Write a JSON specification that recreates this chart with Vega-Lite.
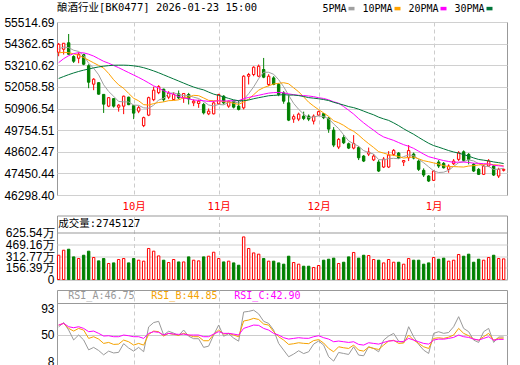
{
"$schema": "https://vega.github.io/schema/vega-lite/v6.json",
"background": "white",
"padding": {"left": 3, "top": 2, "right": 0, "bottom": 0},
"spacing": 2.5,
"resolve": {"scale": {"x": "independent", "y": "independent", "color": "independent"}, "legend": {"color": "independent"}},
"config": {"view": {"stroke": "#999999", "strokeWidth": 1}, "axis": {"labelOverlap": false}},
"datasets": {"k": [
{"d":"2025-09-10","o":53903,"h":54398,"l":53691,"c":54329,"vol":323,"m5":54080,"m10":53870,"m20":53350,"m30":52505,"ra":63,"rb":66,"rc":66},
{"d":"2025-09-11","o":54063,"h":54398,"l":53781,"c":54382,"vol":390,"m5":54180,"m10":53900,"m20":53560,"m30":52610,"ra":70,"rb":68.7,"rc":68.7},
{"d":"2025-09-12","o":54408,"h":54876,"l":53770,"c":53797,"vol":403,"m5":54150,"m10":53880,"m20":53720,"m30":52710,"ra":58,"rb":60.6,"rc":63.3},
{"d":"2025-09-15","o":53675,"h":53744,"l":53334,"c":53425,"vol":301,"m5":54010,"m10":53820,"m20":53830,"m30":52800,"ra":42,"rb":56.3,"rc":61.7},
{"d":"2025-09-16","o":53584,"h":53903,"l":53318,"c":53797,"vol":279,"m5":53946,"m10":53740,"m20":53880,"m30":52880,"ra":50,"rb":60.6,"rc":63.3},
{"d":"2025-09-17","o":53781,"h":53823,"l":53212,"c":53265,"vol":323,"m5":53733,"m10":53620,"m20":53870,"m30":52950,"ra":42,"rb":57.9,"rc":60.6},
{"d":"2025-09-18","o":53185,"h":53265,"l":51989,"c":52308,"vol":377,"m5":53318,"m10":53480,"m20":53800,"m30":53010,"ra":26,"rb":44.5,"rc":55.3},
{"d":"2025-09-19","o":52202,"h":52521,"l":51882,"c":52467,"vol":293,"m5":53052,"m10":53340,"m20":53700,"m30":53070,"ra":30,"rb":47.2,"rc":56.3},
{"d":"2025-09-22","o":52281,"h":52308,"l":51643,"c":51670,"vol":248,"m5":52701,"m10":53200,"m20":53560,"m30":53120,"ra":25,"rb":43.4,"rc":52.6},
{"d":"2025-09-23","o":51659,"h":51670,"l":50670,"c":51138,"vol":279,"m5":52170,"m10":53058,"m20":53420,"m30":53160,"ra":18,"rb":36.4,"rc":48.3},
{"d":"2025-09-24","o":51032,"h":51510,"l":50978,"c":51484,"vol":213,"m5":51813,"m10":52773,"m20":53320,"m30":53190,"ra":24,"rb":38,"rc":48.8},
{"d":"2025-09-25","o":51430,"h":51457,"l":50952,"c":51032,"vol":221,"m5":51558,"m10":52438,"m20":53200,"m30":53210,"ra":21,"rb":34.8,"rc":47.2},
{"d":"2025-09-26","o":50978,"h":51138,"l":50739,"c":51085,"vol":266,"m5":51282,"m10":52167,"m20":53080,"m30":53215,"ra":22,"rb":35.3,"rc":47.2},
{"d":"2025-09-29","o":51032,"h":51590,"l":50606,"c":51563,"vol":279,"m5":51260,"m10":51981,"m20":52950,"m30":53215,"ra":36,"rb":41.8,"rc":49.9},
{"d":"2025-09-30","o":51510,"h":51537,"l":51085,"c":51111,"vol":221,"m5":51255,"m10":51712,"m20":52820,"m30":53205,"ra":29,"rb":39.1,"rc":48.8},
{"d":"2025-10-09","o":51058,"h":51085,"l":50340,"c":50659,"vol":279,"m5":51090,"m10":51452,"m20":52690,"m30":53180,"ra":24,"rb":33.7,"rc":47.2},
{"d":"2025-10-10","o":50766,"h":51058,"l":50659,"c":50952,"vol":257,"m5":51074,"m10":51316,"m20":52560,"m30":53140,"ra":30,"rb":36.4,"rc":47.2},
{"d":"2025-10-13","o":49995,"h":50473,"l":49915,"c":50420,"vol":244,"m5":50941,"m10":51111,"m20":52420,"m30":53080,"ra":23,"rb":33.7,"rc":44.5},
{"d":"2025-10-14","o":50553,"h":51537,"l":50500,"c":51484,"vol":413,"m5":50925,"m10":51093,"m20":52270,"m30":53000,"ra":63,"rb":50.9,"rc":52.6},
{"d":"2025-10-15","o":51377,"h":52069,"l":51297,"c":51882,"vol":377,"m5":51079,"m10":51167,"m20":52113,"m30":52910,"ra":70,"rb":56.3,"rc":55.3},
{"d":"2025-10-16","o":51750,"h":52148,"l":51670,"c":52069,"vol":314,"m5":51361,"m10":51226,"m20":52000,"m30":52810,"ra":72,"rb":55.3,"rc":54.2},
{"d":"2025-10-17","o":51936,"h":51962,"l":51271,"c":51377,"vol":257,"m5":51446,"m10":51260,"m20":51849,"m30":52700,"ra":50,"rb":48.3,"rc":49.9},
{"d":"2025-10-20","o":51510,"h":51829,"l":51404,"c":51723,"vol":226,"m5":51707,"m10":51324,"m20":51746,"m30":52590,"ra":56,"rb":52.6,"rc":52.6},
{"d":"2025-10-21","o":51388,"h":51776,"l":51350,"c":51654,"vol":266,"m5":51741,"m10":51333,"m20":51657,"m30":52480,"ra":53,"rb":50.9,"rc":51.5},
{"d":"2025-10-22","o":51686,"h":51866,"l":51404,"c":51473,"vol":234,"m5":51660,"m10":51369,"m20":51541,"m30":52370,"ra":49,"rb":49.5,"rc":51},
{"d":"2025-10-23","o":51473,"h":51723,"l":51207,"c":51707,"vol":234,"m5":51587,"m10":51474,"m20":51463,"m30":52260,"ra":58,"rb":52.6,"rc":51.5},
{"d":"2025-10-24","o":51654,"h":51739,"l":51122,"c":51420,"vol":301,"m5":51596,"m10":51521,"m20":51419,"m30":52150,"ra":48,"rb":49.9,"rc":49.9},
{"d":"2025-10-27","o":51207,"h":51388,"l":51032,"c":51297,"vol":257,"m5":51510,"m10":51608,"m20":51360,"m30":52050,"ra":44,"rb":47.2,"rc":49.9},
{"d":"2025-10-28","o":51175,"h":51377,"l":50941,"c":51297,"vol":248,"m5":51439,"m10":51590,"m20":51342,"m30":51965,"ra":44,"rb":47.2,"rc":49.9},
{"d":"2025-10-29","o":51122,"h":51207,"l":50590,"c":50675,"vol":301,"m5":51279,"m10":51469,"m20":51319,"m30":51898,"ra":30,"rb":40.7,"rc":47.2},
{"d":"2025-10-30","o":50622,"h":50909,"l":50553,"c":50766,"vol":310,"m5":51091,"m10":51339,"m20":51283,"m30":51779,"ra":32,"rb":40.7,"rc":47.2},
{"d":"2025-10-31","o":50622,"h":51297,"l":50590,"c":51207,"vol":363,"m5":51048,"m10":51322,"m20":51291,"m30":51673,"ra":50,"rb":50.9,"rc":51.5},
{"d":"2025-11-03","o":51154,"h":51686,"l":51122,"c":51654,"vol":279,"m5":51120,"m10":51315,"m20":51320,"m30":51602,"ra":66,"rb":57.9,"rc":55.3},
{"d":"2025-11-04","o":51563,"h":51617,"l":51122,"c":51207,"vol":234,"m5":51102,"m10":51270,"m20":51302,"m30":51528,"ra":48,"rb":51.5,"rc":52.6},
{"d":"2025-11-05","o":51032,"h":51324,"l":50941,"c":51297,"vol":244,"m5":51226,"m10":51253,"m20":51311,"m30":51445,"ra":52,"rb":52.6,"rc":52.6},
{"d":"2025-11-06","o":51297,"h":51335,"l":50909,"c":50978,"vol":221,"m5":51269,"m10":51180,"m20":51327,"m30":51368,"ra":45,"rb":49.9,"rc":51.5},
{"d":"2025-11-07","o":51032,"h":51335,"l":50803,"c":50856,"vol":190,"m5":51198,"m10":51123,"m20":51323,"m30":51320,"ra":40,"rb":47.2,"rc":49.9},
{"d":"2025-11-10","o":50941,"h":52680,"l":50856,"c":52627,"vol":567,"m5":51393,"m10":51256,"m20":51433,"m30":51325,"ra":87,"rb":72.5,"rc":60.6},
{"d":"2025-11-11","o":52627,"h":52802,"l":52186,"c":52717,"vol":413,"m5":51695,"m10":51398,"m20":51495,"m30":51360,"ra":88,"rb":74.1,"rc":63.3},
{"d":"2025-11-12","o":52717,"h":53159,"l":52627,"c":53106,"vol":354,"m5":52057,"m10":51642,"m20":51556,"m30":51426,"ra":90,"rb":76.8,"rc":66},
{"d":"2025-11-13","o":52627,"h":53249,"l":52574,"c":53159,"vol":337,"m5":52493,"m10":51881,"m20":51610,"m30":51482,"ra":84,"rb":75,"rc":65.5},
{"d":"2025-11-14","o":52983,"h":53600,"l":52521,"c":52574,"vol":279,"m5":52837,"m10":52018,"m20":51670,"m30":51533,"ra":72,"rb":67.6,"rc":60.6},
{"d":"2025-11-17","o":52186,"h":52733,"l":52095,"c":52627,"vol":244,"m5":52837,"m10":52115,"m20":51726,"m30":51585,"ra":68.7,"rb":66,"rc":57.9},
{"d":"2025-11-18","o":52537,"h":52627,"l":52148,"c":52186,"vol":244,"m5":52730,"m10":52213,"m20":51753,"m30":51605,"ra":57.9,"rb":55.3,"rc":52.6},
{"d":"2025-11-19","o":52186,"h":52255,"l":51563,"c":51654,"vol":221,"m5":52440,"m10":52248,"m20":51762,"m30":51623,"ra":36.4,"rb":47.2,"rc":49.9},
{"d":"2025-11-20","o":51739,"h":51829,"l":51159,"c":51297,"vol":204,"m5":52068,"m10":52280,"m20":51741,"m30":51645,"ra":25.6,"rb":41.8,"rc":45.6},
{"d":"2025-11-21","o":51207,"h":51654,"l":50234,"c":50287,"vol":310,"m5":51610,"m10":52223,"m20":51684,"m30":51622,"ra":14.9,"rb":34.8,"rc":43.4},
{"d":"2025-11-24","o":50340,"h":50590,"l":50143,"c":50473,"vol":226,"m5":51179,"m10":52008,"m20":51643,"m30":51624,"ra":19.2,"rb":35.9,"rc":44.5},
{"d":"2025-11-25","o":50340,"h":50686,"l":50234,"c":50606,"vol":204,"m5":50863,"m10":51797,"m20":51609,"m30":51595,"ra":24.6,"rb":37.5,"rc":45.6},
{"d":"2025-11-26","o":50500,"h":50739,"l":50287,"c":50378,"vol":177,"m5":50608,"m10":51524,"m20":51594,"m30":51545,"ra":20,"rb":36.5,"rc":44.8},
{"d":"2025-11-27","o":50500,"h":50590,"l":50234,"c":50340,"vol":177,"m5":50417,"m10":51242,"m20":51573,"m30":51487,"ra":22.9,"rb":36,"rc":44.6},
{"d":"2025-11-28","o":50234,"h":50590,"l":50058,"c":50500,"vol":160,"m5":50459,"m10":51035,"m20":51537,"m30":51458,"ra":35.3,"rb":41,"rc":47.2},
{"d":"2025-12-01","o":50553,"h":50792,"l":50500,"c":50739,"vol":186,"m5":50513,"m10":50846,"m20":51480,"m30":51425,"ra":40.2,"rb":42.5,"rc":48.8},
{"d":"2025-12-02","o":50633,"h":50659,"l":50340,"c":50420,"vol":257,"m5":50475,"m10":50669,"m20":51441,"m30":51384,"ra":33.7,"rb":37,"rc":45.6},
{"d":"2025-12-03","o":50394,"h":50447,"l":49612,"c":49808,"vol":270,"m5":50361,"m10":50485,"m20":51367,"m30":51329,"ra":14.9,"rb":28.3,"rc":43.4},
{"d":"2025-12-04","o":49755,"h":49915,"l":48851,"c":48958,"vol":284,"m5":50085,"m10":50251,"m20":51266,"m30":51237,"ra":7.9,"rb":22.9,"rc":39.1},
{"d":"2025-12-05","o":48851,"h":49330,"l":48745,"c":49261,"vol":213,"m5":49837,"m10":50148,"m20":51186,"m30":51165,"ra":21.8,"rb":31,"rc":40.2},
{"d":"2025-12-08","o":49356,"h":49489,"l":49011,"c":49080,"vol":230,"m5":49505,"m10":50009,"m20":51009,"m30":51091,"ra":20.2,"rb":29.4,"rc":39.1},
{"d":"2025-12-09","o":49027,"h":49091,"l":48745,"c":48798,"vol":301,"m5":49181,"m10":49828,"m20":50813,"m30":51008,"ra":18.6,"rb":28.3,"rc":38},
{"d":"2025-12-10","o":48798,"h":49489,"l":48729,"c":49037,"vol":360,"m5":49027,"m10":49694,"m20":50609,"m30":50953,"ra":31,"rb":33.7,"rc":39.1},
{"d":"2025-12-11","o":48825,"h":48904,"l":48160,"c":48282,"vol":284,"m5":48892,"m10":49488,"m20":50365,"m30":50870,"ra":17.6,"rb":25.6,"rc":34.8},
{"d":"2025-12-12","o":48373,"h":48426,"l":48053,"c":48107,"vol":323,"m5":48661,"m10":49249,"m20":50142,"m30":50767,"ra":16.5,"rb":24,"rc":33.7},
{"d":"2025-12-15","o":48479,"h":48825,"l":48373,"c":48585,"vol":319,"m5":48562,"m10":49034,"m20":49940,"m30":50665,"ra":31,"rb":30.5,"rc":37.5},
{"d":"2025-12-16","o":48170,"h":48479,"l":48107,"c":48373,"vol":266,"m5":48477,"m10":48829,"m20":49749,"m30":50570,"ra":28.3,"rb":28.3,"rc":36.4},
{"d":"2025-12-17","o":48054,"h":48160,"l":47522,"c":47575,"vol":257,"m5":48184,"m10":48606,"m20":49545,"m30":50446,"ra":22.9,"rb":26.7,"rc":35.3},
{"d":"2025-12-18","o":47788,"h":48319,"l":47735,"c":48213,"vol":221,"m5":48171,"m10":48531,"m20":49391,"m30":50354,"ra":41.8,"rb":33.7,"rc":38},
{"d":"2025-12-19","o":47788,"h":48638,"l":47735,"c":48426,"vol":266,"m5":48234,"m10":48448,"m20":49298,"m30":50273,"ra":48.3,"rb":40.2,"rc":40.2},
{"d":"2025-12-22","o":48463,"h":48745,"l":48373,"c":48676,"vol":230,"m5":48253,"m10":48407,"m20":49208,"m30":50141,"ra":52.6,"rb":41.5,"rc":40.8},
{"d":"2025-12-23","o":48532,"h":48585,"l":48213,"c":48266,"vol":230,"m5":48231,"m10":48354,"m20":49091,"m30":49993,"ra":40,"rb":36.4,"rc":39.1},
{"d":"2025-12-24","o":48053,"h":48160,"l":47841,"c":48133,"vol":204,"m5":48343,"m10":48264,"m20":48979,"m30":49827,"ra":38,"rb":37,"rc":39.5},
{"d":"2025-12-25","o":48282,"h":48958,"l":48107,"c":48665,"vol":279,"m5":48433,"m10":48302,"m20":48895,"m30":49677,"ra":63.3,"rb":49.9,"rc":44.5},
{"d":"2025-12-26","o":48479,"h":48559,"l":48197,"c":48266,"vol":257,"m5":48401,"m10":48318,"m20":48783,"m30":49534,"ra":47.2,"rb":41.8,"rc":41.8},
{"d":"2025-12-29","o":48107,"h":48197,"l":47575,"c":47665,"vol":257,"m5":48199,"m10":48226,"m20":48630,"m30":49368,"ra":34.8,"rb":36.4,"rc":39.1},
{"d":"2025-12-30","o":47612,"h":47719,"l":47256,"c":47362,"vol":204,"m5":48018,"m10":48125,"m20":48477,"m30":49208,"ra":25.6,"rb":31,"rc":36.4},
{"d":"2025-12-31","o":47309,"h":47362,"l":46990,"c":47043,"vol":221,"m5":47800,"m10":48072,"m20":48339,"m30":49054,"ra":20.2,"rb":28.3,"rc":35.3},
{"d":"2026-01-05","o":47080,"h":47601,"l":47043,"c":47575,"vol":293,"m5":47582,"m10":48008,"m20":48269,"m30":48930,"ra":52.6,"rb":44.5,"rc":41.8},
{"d":"2026-01-06","o":48054,"h":48160,"l":47735,"c":47841,"vol":270,"m5":47497,"m10":47949,"m20":48198,"m30":48848,"ra":55.3,"rb":45.5,"rc":43.4},
{"d":"2026-01-07","o":47984,"h":48054,"l":47708,"c":47750,"vol":284,"m5":47514,"m10":47857,"m20":48132,"m30":48758,"ra":52.6,"rb":44.5,"rc":43.2},
{"d":"2026-01-08","o":47665,"h":47931,"l":47485,"c":47841,"vol":244,"m5":47610,"m10":47814,"m20":48084,"m30":48665,"ra":54,"rb":46.5,"rc":44.5},
{"d":"2026-01-09","o":47963,"h":48213,"l":47894,"c":48107,"vol":257,"m5":47823,"m10":47812,"m20":48038,"m30":48590,"ra":63.3,"rb":49.9,"rc":46.1},
{"d":"2026-01-12","o":48197,"h":48638,"l":48107,"c":48548,"vol":333,"m5":48017,"m10":47800,"m20":48051,"m30":48530,"ra":79.5,"rb":60.6,"rc":49.9},
{"d":"2026-01-13","o":48601,"h":48676,"l":48080,"c":48144,"vol":310,"m5":48078,"m10":47788,"m20":48053,"m30":48451,"ra":60.6,"rb":52.6,"rc":47.2},
{"d":"2026-01-14","o":48463,"h":48532,"l":47931,"c":48197,"vol":337,"m5":48167,"m10":47841,"m20":48033,"m30":48367,"ra":55.3,"rb":48.8,"rc":46.1},
{"d":"2026-01-15","o":47931,"h":47999,"l":47522,"c":47575,"vol":230,"m5":48114,"m10":47862,"m20":47993,"m30":48272,"ra":41.8,"rb":43.4,"rc":43.4},
{"d":"2026-01-16","o":47665,"h":47735,"l":47362,"c":47399,"vol":270,"m5":47973,"m10":47898,"m20":47985,"m30":48192,"ra":38,"rb":41.8,"rc":41.8},
{"d":"2026-01-19","o":47399,"h":47894,"l":47362,"c":47841,"vol":257,"m5":47831,"m10":47924,"m20":47966,"m30":48154,"ra":55.3,"rb":47.2,"rc":44.5},
{"d":"2026-01-20","o":47841,"h":48213,"l":47788,"c":48107,"vol":293,"m5":47824,"m10":47951,"m20":47950,"m30":48116,"ra":60.6,"rb":52.6,"rc":47.2},
{"d":"2026-01-21","o":47841,"h":47894,"l":47309,"c":47362,"vol":323,"m5":47657,"m10":47912,"m20":47884,"m30":48059,"ra":38,"rb":41.5,"rc":41.5},
{"d":"2026-01-22","o":47309,"h":47750,"l":47203,"c":47665,"vol":279,"m5":47675,"m10":47895,"m20":47854,"m30":48021,"ra":46.75,"rb":44.85,"rc":42.9},
{"d":"2026-01-23","o":47612,"h":47708,"l":47548,"c":47665,"vol":274.5,"m5":47728,"m10":47850,"m20":47831,"m30":47975,"ra":46.75,"rb":44.85,"rc":42.9}
]},
"vconcat": [
{
"width": 450, "height": 173,
"title": {"text": "酿酒行业[BK0477] 2026-01-23 15:00", "anchor": "start", "frame": "group", "baseline": "top", "offset": -10.2, "font": "DejaVu Sans Mono, Noto Sans CJK SC", "fontSize": 10.5, "fontWeight": "normal", "color": "#000000"},
"data": {"name": "k"},
"encoding": {"x": {"field": "d", "type": "ordinal", "scale": {"type": "point", "paddingOuter": 1.01, "align": 0.33},
  "axis": {"values": ["2025-10-09","2025-11-03","2025-12-01","2026-01-05"], "labelExpr": "datum.value == '2025-10-09' ? '10月' : datum.value == '2025-11-03' ? '11月' : datum.value == '2025-12-01' ? '12月' : '1月'", "title": null, "domain": false, "ticks": false, "labelAngle": 0, "labelColor": "#ff0000", "labelFont": "DejaVu Sans Mono, Noto Sans CJK SC", "labelFontSize": 10.5, "labelPadding": 6, "grid": true, "gridDash": [4, 3], "gridColor": "#cccccc", "labelOverlap": false}}},
"layer": [
 {"mark": {"type": "rule", "strokeWidth": 1},
  "encoding": {
   "y": {"field": "l", "type": "quantitative", "scale": {"domain": [46298.40, 55514.69], "nice": false, "zero": false},
     "axis": {"values": [46298.40, 47450.44, 48602.47, 49754.51, 50906.54, 52058.58, 53210.62, 54362.65, 55514.69], "format": ".2f", "title": null, "domain": false, "ticks": false, "labelPadding": 3, "labelFont": "Liberation Sans", "labelFontSize": 12, "labelColor": "#000000", "gridColor": "#d0d0d0", "labelOverlap": false, "labelFlush": false, "labelBound": false, "minExtent": 53, "maxExtent": 53}},
   "y2": {"field": "h"},
   "stroke": {"condition": {"test": "datum.c >= datum.o", "value": "#ff0000"}, "value": "#008000"}}},
 {"mark": {"type": "bar", "width": 2.4, "strokeWidth": 1},
  "encoding": {
   "y": {"field": "o", "type": "quantitative",
     "axis": {"values": [46298.40, 47450.44, 48602.47, 49754.51, 50906.54, 52058.58, 53210.62, 54362.65, 55514.69], "format": ".2f", "title": null, "domain": false, "ticks": false, "labelPadding": 3, "labelFont": "Liberation Sans", "labelFontSize": 12, "labelColor": "#000000", "gridColor": "#d0d0d0", "labelOverlap": false, "labelFlush": false, "labelBound": false, "minExtent": 53, "maxExtent": 53}},
   "y2": {"field": "c"},
   "fill": {"condition": {"test": "datum.c >= datum.o", "value": "#ffffff"}, "value": "#008000"},
   "stroke": {"condition": {"test": "datum.c >= datum.o", "value": "#ff0000"}, "value": "#008000"}}},
 {"transform": [{"fold": ["m5","m10","m20","m30"], "as": ["ma","v"]}],
  "mark": {"type": "line", "strokeWidth": 1},
  "encoding": {
   "y": {"field": "v", "type": "quantitative",
     "axis": {"values": [46298.40, 47450.44, 48602.47, 49754.51, 50906.54, 52058.58, 53210.62, 54362.65, 55514.69], "format": ".2f", "title": null, "domain": false, "ticks": false, "labelPadding": 3, "labelFont": "Liberation Sans", "labelFontSize": 12, "labelColor": "#000000", "gridColor": "#d0d0d0", "labelOverlap": false, "labelFlush": false, "labelBound": false, "minExtent": 53, "maxExtent": 53}},
   "color": {"field": "ma", "type": "nominal", "scale": {"domain": ["m5","m10","m20","m30"], "range": ["#a0a0a0","#ffa200","#ff00ff","#00753a"]},
     "legend": {"orient": "none", "legendX": 289.5, "legendY": -18.4, "direction": "horizontal", "columns": 4, "title": null, "padding": 0,
       "labelExpr": "datum.value == 'm5' ? '5PMA' : datum.value == 'm10' ? '10PMA' : datum.value == 'm20' ? '20PMA' : '30PMA'",
       "labelFont": "DejaVu Sans Mono", "labelFontSize": 10, "labelColor": "#000000", "labelAlign": "right", "labelOffset": -10,
       "symbolType": "stroke", "symbolSize": 36, "symbolStrokeWidth": 3.5, "columnPadding": 0}}}}
]
},
{
"width": 450, "height": 64,
"title": {"text": "成交量:2745127", "anchor": "start", "frame": "group", "baseline": "top", "offset": -14, "dx": 1.3, "font": "DejaVu Sans Mono, Noto Sans CJK SC", "fontSize": 10.5, "fontWeight": "normal", "color": "#000000"},
"data": {"name": "k"},
"mark": {"type": "bar", "width": 2.4, "strokeWidth": 1},
"encoding": {
 "x": {"field": "d", "type": "ordinal", "scale": {"type": "point", "paddingOuter": 1.01, "align": 0.33},
   "axis": {"values": ["2025-10-09","2025-11-03","2025-12-01","2026-01-05"], "labels": false, "ticks": false, "domain": false, "title": null, "grid": true, "gridDash": [4, 3], "gridColor": "#cccccc", "minExtent": 0, "maxExtent": 0}},
 "y": {"field": "vol", "type": "quantitative", "scale": {"domain": [0, 852], "nice": false},
   "axis": {"values": [0, 156.39, 312.77, 469.16, 625.54], "labelExpr": "datum.value == 0 ? '0' : format(datum.value, '.2f') + '万'", "title": null, "domain": false, "ticks": false, "labelPadding": 3, "labelFont": "Liberation Sans", "labelFontSize": 12, "labelColor": "#000000", "gridColor": {"condition": {"test": "datum.value > 600", "value": "#999999"}, "value": "#d0d0d0"}, "labelOverlap": false, "labelFlush": false, "labelBound": false, "minExtent": 53, "maxExtent": 53}},
 "fill": {"condition": {"test": "datum.c >= datum.o", "value": "#ffffff"}, "value": "#008000"},
 "stroke": {"condition": {"test": "datum.c >= datum.o", "value": "#ff0000"}, "value": "#008000"}
}
},
{
"width": 450, "height": 76,
"data": {"name": "k"},
"transform": [{"fold": ["ra","rb","rc"], "as": ["rk","rv"]}],
"mark": {"type": "line", "strokeWidth": 1},
"encoding": {
 "x": {"field": "d", "type": "ordinal", "scale": {"type": "point", "paddingOuter": 1.01, "align": 0.33},
   "axis": {"values": ["2025-10-09","2025-11-03","2025-12-01","2026-01-05"], "labels": false, "ticks": false, "domain": false, "title": null, "grid": true, "gridDash": [4, 3], "gridColor": "#cccccc", "minExtent": 0, "maxExtent": 0}},
 "y": {"field": "rv", "type": "quantitative", "scale": {"domain": [0, 122.5], "nice": false, "zero": false},
   "axis": {"values": [8, 50, 93, 102.3], "labelExpr": "datum.value > 100 ? '' : format(datum.value, 'd')", "title": null, "domain": false, "ticks": false, "labelPadding": 3, "labelFont": "Liberation Sans", "labelFontSize": 12, "labelColor": "#000000", "gridColor": {"condition": [{"test": "datum.value > 100", "value": "#999999"}, {"test": "datum.value == 50", "value": "#cccccc"}], "value": "transparent"}, "labelOverlap": false, "labelFlush": false, "labelBound": false, "minExtent": 53, "maxExtent": 53}},
 "color": {"field": "rk", "type": "nominal", "scale": {"domain": ["ra","rb","rc"], "range": ["#999999","#f5a200","#ff00ff"]},
   "legend": {"orient": "none", "legendX": 1.3, "legendY": 0.5, "direction": "horizontal", "columns": 3, "title": null, "padding": 0,
     "labelExpr": "datum.value == 'ra' ? 'RSI_A:46.75' : datum.value == 'rb' ? 'RSI_B:44.85' : 'RSI_C:42.90'",
     "labelColor": {"expr": "datum.value == 'ra' ? '#999999' : datum.value == 'rb' ? '#f5a200' : '#ff00ff'"},
     "labelFont": "DejaVu Sans Mono", "labelFontSize": 10, "labelOffset": 0,
     "symbolType": "circle", "symbolSize": 0, "symbolStrokeWidth": 0, "symbolOpacity": 0, "columnPadding": 6}}
}
}
]
}
